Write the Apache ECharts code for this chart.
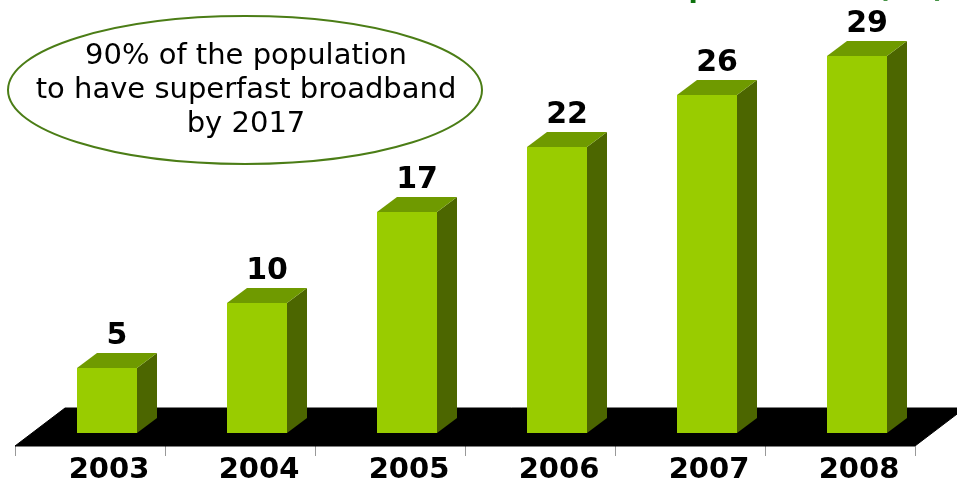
<!DOCTYPE html>
<html>
<head>
<meta charset="utf-8">
<style>
  html, body { margin: 0; padding: 0; background: #fff; }
  #chart { width: 957px; height: 482px; }
</style>
<script src="https://cdn.jsdelivr.net/npm/echarts@6/dist/echarts.min.js"></script>
</head>
<body>
<div id="chart"></div>
<script>
const categories = ['2003', '2004', '2005', '2006', '2007', '2008'];
const values = [5, 10, 17, 22, 26, 29];
const noteLines = ['90% of the population', 'to have superfast broadband', 'by 2017'];
const titleText = 'Broadband penetration (UK)';

const FONT = '"DejaVu Sans", Verdana, sans-serif';
const FRONT = '#99cc00';
const TOP = '#6f9a00';
const SIDE = '#4c6600';

// floor depth (perspective offset) and bar placement inside it
const FLOOR_DX = 50, FLOOR_DY = -38;
const BAR_POS = 0.34;        // fraction of floor depth where bar fronts stand
const BAR_DX = 20, BAR_DY = -15; // bar depth
const BAR_W = 0.4;           // fraction of band width

const chart = echarts.init(document.getElementById('chart'), null, { renderer: 'canvas' });

function renderFloor(params, api) {
  const cs = params.coordSys;
  const x0 = cs.x, x1 = cs.x + cs.width, yb = cs.y + cs.height;
  return {
    type: 'polygon',
    shape: { points: [[x0, yb], [x1, yb], [x1 + FLOOR_DX, yb + FLOOR_DY], [x0 + FLOOR_DX, yb + FLOOR_DY]] },
    style: { fill: '#000', stroke: '#000', lineWidth: 1 },
    silent: true
  };
}

function renderBar(params, api) {
  const idx = api.value(0);
  const v = api.value(1);
  const base = api.coord([idx, 0]);
  const topP = api.coord([idx, v]);
  const band = api.size([1, 0])[0];
  const w = band * BAR_W;
  const ox = FLOOR_DX * BAR_POS, oy = FLOOR_DY * BAR_POS;
  const xl = base[0] + ox - w / 2, xr = xl + w;
  const yb = base[1] + oy, yt = topP[1] + oy;
  return {
    type: 'group',
    children: [
      { type: 'polygon', shape: { points: [[xr, yt], [xr + BAR_DX, yt + BAR_DY], [xr + BAR_DX, yb + BAR_DY], [xr, yb]] },
        style: { fill: SIDE } },
      { type: 'polygon', shape: { points: [[xl, yt], [xl + BAR_DX, yt + BAR_DY], [xr + BAR_DX, yt + BAR_DY], [xr, yt]] },
        style: { fill: TOP } },
      { type: 'rect', shape: { x: xl, y: yt, width: w, height: yb - yt },
        style: { fill: FRONT } },
      { type: 'text', x: (xl + xr) / 2 + BAR_DX / 2, y: yt + BAR_DY - 2,
        style: { text: String(v), fill: '#000', font: 'bold 30px ' + FONT, align: 'center', verticalAlign: 'bottom' } }
    ]
  };
}

const option = {
  animation: false,
  backgroundColor: '#fff',
  grid: { left: 15, right: 42, top: 56, bottom: 36, containLabel: false, outerBoundsMode: 'none' },
  xAxis: {
    type: 'category',
    data: categories,
    boundaryGap: true,
    axisLine: { show: false },
    axisTick: { show: true, length: 10, lineStyle: { color: '#999', width: 1 } },
    axisLabel: {
      margin: 10,
      formatter: function (v) { return '{a|' + v + '}'; },
      rich: { a: { fontFamily: FONT, fontWeight: 'bold', fontSize: 29, color: '#000', padding: [0, 0, 0, 38] } }
    },
    splitLine: { show: false }
  },
  yAxis: { type: 'value', min: 0, max: 30, show: false, splitLine: { show: false } },
  series: [
    { type: 'custom', renderItem: renderFloor, data: [[0, 0]], z: 1, silent: true },
    { type: 'custom', renderItem: renderBar, z: 2,
      data: values.map((v, i) => [i, v]), encode: { x: 0, y: 1 } }
  ],
  graphic: [
    { type: 'text', right: 12, top: -24, z: 10,
      style: { text: titleText, fill: '#0e720e', font: 'bold 27px ' + FONT } },
    { type: 'ellipse', shape: { cx: 245, cy: 90, rx: 237, ry: 74 }, z: 10,
      style: { fill: '#fff', stroke: '#4b7d16', lineWidth: 2 } },
    { type: 'text', x: 246, y: 90, z: 11,
      style: { text: noteLines.join('\n'), fill: '#000', font: '29px ' + FONT, align: 'center', verticalAlign: 'middle', lineHeight: 34 } }
  ]
};
chart.setOption(option);
</script>
</body>
</html>
